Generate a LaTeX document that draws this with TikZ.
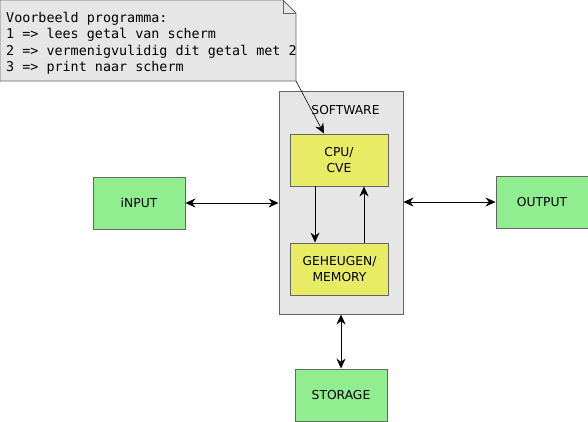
\documentclass[tikz,border=0pt]{standalone}
\usepackage{fontspec}
\setmainfont{DejaVu Sans}
\newfontfamily\monofont{DejaVu Sans Mono}
\usetikzlibrary{arrows.meta}
\definecolor{boxgray}{HTML}{E6E6E6}
\definecolor{edgegray}{HTML}{666666}
\definecolor{cpuyellow}{HTML}{E8EC64}
\definecolor{iogreen}{HTML}{90EE90}
\tikzset{
  blk/.style={draw=edgegray, line width=0.9pt, inner sep=0pt, align=center, font=\fontsize{12.3}{14.5}\selectfont},
  yel/.style={blk, fill=cpuyellow, minimum width=98pt, minimum height=52pt},
  grn/.style={blk, fill=iogreen, minimum width=92pt, minimum height=52pt},
  conn/.style={line width=0.8pt, -{Stealth[length=10pt,width=9pt]}},
  biconn/.style={line width=0.8pt, {Stealth[length=10pt,width=9pt]}-{Stealth[length=10pt,width=9pt]}},
}
\begin{document}
\begin{tikzpicture}[x=1pt,y=-1pt]
\useasboundingbox (0,0) rectangle (588,421);
% note
\draw[draw=edgegray, fill=boxgray, line width=0.9pt] (0,0) -- (283,0) -- (296,13) -- (296,81) -- (0,81) -- cycle;
\draw[draw=edgegray, line width=0.9pt] (283,0) -- (283,13) -- (296,13);
\node[anchor=north west, inner sep=0pt, align=left, font=\monofont\fontsize{13.4}{16.3}\selectfont] (note) at (6,12)
{Voorbeeld programma:\\1 => lees getal van scherm\\2 => vermenigvulidig dit getal met 2\\3 => print naar scherm};
\coordinate (notept) at (296,81);
% software
\node[blk, fill=boxgray, minimum width=124pt, minimum height=223pt] (sw) at (341,202.5) {};
\node[font=\fontsize{12.3}{14.5}\selectfont, inner sep=0pt] (swl) at (345.5,110) {SOFTWARE};
\node[yel] (cpu) at (339,160) {CPU/\\[2pt]CVE};
\node[yel] (mem) at (339.5,269) {GEHEUGEN/\\[2pt]MEMORY};
\node[grn] (in) at (139,203) {iNPUT};
\node[grn] (out) at (542,202) {OUTPUT};
\node[grn] (sto) at (341,395) {STORAGE};
% connectors
\draw[biconn] (in.east) -- (sw.west |- in.east);
\draw[biconn] (sw.east |- out.west) -- (out.west);
\draw[biconn] (sw.south) -- (sto.north);
\draw[conn] (cpu.south -| 315,0) -- (mem.north -| 315,0);
\draw[conn] (mem.north -| 364,0) -- (cpu.south -| 364,0);
\draw[line width=0.6pt, -{Stealth[length=10pt,width=9pt]}] (notept) -- (cpu.north -| 324,0);
\end{tikzpicture}
\end{document}
